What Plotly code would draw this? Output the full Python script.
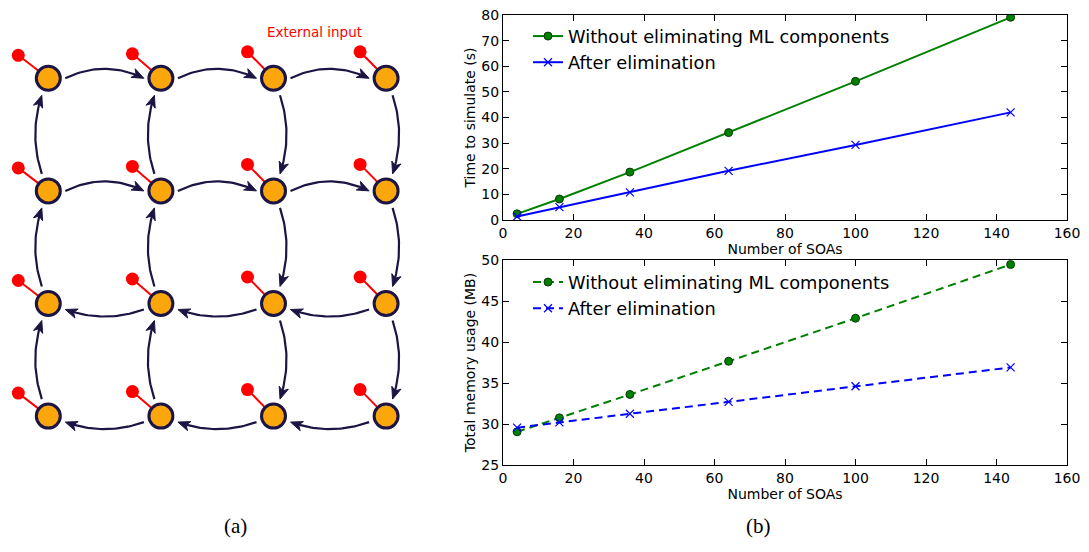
import numpy as np
import plotly.graph_objects as go

# ---------------- data ----------------
n_soas = [4, 16, 36, 64, 100, 144]
time_without = [2.4, 8.2, 18.7, 34.1, 54.1, 79.1]
time_after = [1.4, 5.0, 10.8, 19.2, 29.3, 42.0]
mem_without = [29.05, 30.75, 33.6, 37.65, 42.9, 49.45]
mem_after = [29.55, 30.2, 31.25, 32.7, 34.6, 36.9]
series_names = ["Without eliminating ML components", "After elimination"]
x_ticks = [0, 20, 40, 60, 80, 100, 120, 140, 160]
time_ticks = [0, 10, 20, 30, 40, 50, 60, 70, 80]
mem_ticks = [25, 30, 35, 40, 45, 50]
x_title = "Number of SOAs"
time_title = "Time to simulate (s)"
mem_title = "Total memory usage (MB)"

# diagram (a): 4x4 grid of nodes, directed edges (col,row)->(col,row)
grid_cols = [0, 1, 2, 3]
grid_rows = [0, 1, 2, 3]
edges = [
    ((0, 0), (1, 0)), ((1, 0), (2, 0)), ((2, 0), (3, 0)),
    ((0, 1), (1, 1)), ((1, 1), (2, 1)), ((2, 1), (3, 1)),
    ((3, 2), (2, 2)), ((2, 2), (1, 2)), ((1, 2), (0, 2)),
    ((3, 3), (2, 3)), ((2, 3), (1, 3)), ((1, 3), (0, 3)),
    ((0, 1), (0, 0)), ((0, 2), (0, 1)), ((0, 3), (0, 2)),
    ((1, 1), (1, 0)), ((1, 2), (1, 1)), ((1, 3), (1, 2)),
    ((2, 0), (2, 1)), ((2, 1), (2, 2)), ((2, 2), (2, 3)),
    ((3, 0), (3, 1)), ((3, 1), (3, 2)), ((3, 2), (3, 3)),
]
input_label = "External input"
captions = ["(a)", "(b)"]

# ---------------- styling / geometry constants ----------------
OFF = 8                     # page body margin
W, H = 1089 - OFF, 552 - 2 * OFF
ORIGIN = (48.3, 78.3)
SPACING = (112.6, 112.6)
INPUT_OFFSET = [(-30, -23), (-28.5, -24.5), (-26, -26.5), (-26, -26.5)]
NODE_FILL = "#fba70b"
DARK = "#1c1544"
GREEN = "#008000"
BLUE = "#0000ff"


def px(X):
    return (X - OFF) / W


def py(Y):
    return 1 - (Y - OFF) / H


def node_xy(c, r):
    return ORIGIN[0] + c * SPACING[0], ORIGIN[1] + r * SPACING[1]


fig = go.Figure()

# ---- external input stubs ----
lx, ly, dx, dy = [], [], [], []
for r in grid_rows:
    for c in grid_cols:
        x, y = node_xy(c, r)
        ox, oy = INPUT_OFFSET[c]
        lx += [x + ox, x, None]
        ly += [y + oy, y, None]
        dx.append(x + ox)
        dy.append(y + oy)
fig.add_trace(go.Scatter(x=lx, y=ly, mode="lines", line=dict(color="#ff0000", width=2),
                         xaxis="x3", yaxis="y3", showlegend=False, hoverinfo="skip"))
fig.add_trace(go.Scatter(x=dx, y=dy, mode="markers", marker=dict(color="#ff0000", size=13),
                         xaxis="x3", yaxis="y3", showlegend=False, hoverinfo="skip"))

# ---- curved arrows ----
ax_, ay_, hx, hy = [], [], [], []
for (c0, r0), (c1, r1) in edges:
    A = np.array(node_xy(c0, r0))
    B = np.array(node_xy(c1, r1))
    d = (B - A) / np.linalg.norm(B - A)
    b = np.array([d[1], -d[0]])
    if d[0] > 0.5:
        shift, sag = 0.0, 9.5
    elif d[0] < -0.5:
        shift, sag = 6.0, 7.0
    else:
        shift, sag = 6.5, 6.5
    P0 = A + 17 * d + shift * b
    P2 = B - 17 * d + shift * b
    C = (P0 + P2) / 2 + 2 * sag * b
    t = np.linspace(0, 0.9, 30)
    pts = ((1 - t) ** 2)[:, None] * P0 + (2 * (1 - t) * t)[:, None] * C + (t ** 2)[:, None] * P2
    ax_ += list(pts[:, 0]) + [None]
    ay_ += list(pts[:, 1]) + [None]
    u = (P2 - C) / np.linalg.norm(P2 - C)
    n = np.array([-u[1], u[0]])
    L, w = 12.0, 4.8
    back = P2 - L * u
    notch = P2 - 0.72 * L * u
    poly = [P2, back + w * n, notch, back - w * n, P2]
    hx += [p[0] for p in poly] + [None]
    hy += [p[1] for p in poly] + [None]
fig.add_trace(go.Scatter(x=ax_, y=ay_, mode="lines", line=dict(color=DARK, width=2.2),
                         xaxis="x3", yaxis="y3", showlegend=False, hoverinfo="skip"))
fig.add_trace(go.Scatter(x=hx, y=hy, mode="lines", fill="toself", fillcolor=DARK,
                         line=dict(color=DARK, width=1),
                         xaxis="x3", yaxis="y3", showlegend=False, hoverinfo="skip"))

# ---- nodes ----
nx_, ny_ = [], []
for r in grid_rows:
    for c in grid_cols:
        x, y = node_xy(c, r)
        nx_.append(x)
        ny_.append(y)
fig.add_trace(go.Scatter(x=nx_, y=ny_, mode="markers",
                         marker=dict(color=NODE_FILL, size=24, line=dict(color=DARK, width=3)),
                         xaxis="x3", yaxis="y3", showlegend=False, hoverinfo="skip"))

# ---- plot (b) top: time ----
fig.add_trace(go.Scatter(x=n_soas, y=time_without, name=series_names[0], mode="lines+markers",
                         line=dict(color=GREEN, width=2),
                         marker=dict(symbol="circle", size=8, color=GREEN, line=dict(color="#0a3a0a", width=1)),
                         xaxis="x", yaxis="y", legend="legend"))
fig.add_trace(go.Scatter(x=n_soas, y=time_after, name=series_names[1], mode="lines+markers",
                         line=dict(color=BLUE, width=2),
                         marker=dict(symbol="x-thin", size=8, color=BLUE, line=dict(color=BLUE, width=1.2)),
                         xaxis="x", yaxis="y", legend="legend"))
# ---- plot (b) bottom: memory ----
fig.add_trace(go.Scatter(x=n_soas, y=mem_without, name=series_names[0], mode="lines+markers",
                         line=dict(color=GREEN, width=2, dash="8px,5px"),
                         marker=dict(symbol="circle", size=8, color=GREEN, line=dict(color="#0a3a0a", width=1)),
                         xaxis="x2", yaxis="y2", legend="legend2"))
fig.add_trace(go.Scatter(x=n_soas, y=mem_after, name=series_names[1], mode="lines+markers",
                         line=dict(color=BLUE, width=2, dash="8px,5px"),
                         marker=dict(symbol="x-thin", size=8, color=BLUE, line=dict(color=BLUE, width=1.2)),
                         xaxis="x2", yaxis="y2", legend="legend2"))

FONT = "DejaVu Sans"
tickfont = dict(family=FONT, size=14, color="black")
axis_common = dict(showline=True, linecolor="black", linewidth=1, mirror="allticks",
                   ticks="inside", ticklen=6, tickwidth=1, tickcolor="black", automargin=False,
                   ticklabeloverflow="allow",
                   showgrid=False, zeroline=False, tickfont=tickfont)

xdom = [px(503), px(1067)]
fig.update_layout(
    width=W, height=H, margin=dict(l=0, r=0, t=0, b=0, autoexpand=False),
    paper_bgcolor="white", plot_bgcolor="white",
    font=dict(family=FONT, color="black"),
    xaxis=dict(domain=xdom, range=[0, 160], tickvals=x_ticks, anchor="y",
               title=dict(text=x_title, font=dict(family=FONT, size=14), standoff=2), **axis_common),
    yaxis=dict(domain=[py(220), py(15)], range=[0, 80], tickvals=time_ticks, anchor="x",
               title=dict(text=time_title, font=dict(family=FONT, size=14), standoff=2), **axis_common),
    xaxis2=dict(domain=xdom, range=[0, 160], tickvals=x_ticks, anchor="y2",
                title=dict(text=x_title, font=dict(family=FONT, size=14), standoff=2), **axis_common),
    yaxis2=dict(domain=[py(465), py(260)], range=[25, 50], tickvals=mem_ticks, anchor="x2",
                title=dict(text=mem_title, font=dict(family=FONT, size=14), standoff=2), **axis_common),
    xaxis3=dict(domain=[0, 440 / W], range=[OFF, 440 + OFF], visible=False, anchor="y3", automargin=False),
    yaxis3=dict(domain=[0, 1], range=[H + OFF, OFF], visible=False, anchor="x3", automargin=False),
    legend=dict(x=px(528), y=py(18), xanchor="left", yanchor="top", bgcolor="rgba(0,0,0,0)",
                font=dict(family=FONT, size=17.8), itemwidth=30, tracegroupgap=0),
    legend2=dict(x=px(528), y=py(264), xanchor="left", yanchor="top", bgcolor="rgba(0,0,0,0)",
                 font=dict(family=FONT, size=17.8), itemwidth=30, tracegroupgap=0),
    showlegend=True,
    annotations=[
        dict(text=input_label, x=314, y=32, xref="x3", yref="y3", showarrow=False,
             font=dict(family=FONT, size=13.5, color="#ff0000")),
        dict(text=captions[0], x=px(222), y=py(540), xref="paper", yref="paper", showarrow=False,
             font=dict(family="Liberation Serif", size=21, color="black")),
        dict(text=captions[1], x=px(773), y=py(540), xref="paper", yref="paper", showarrow=False,
             font=dict(family="Liberation Serif", size=21, color="black")),
    ],
)

fig.write_html("out.html")
